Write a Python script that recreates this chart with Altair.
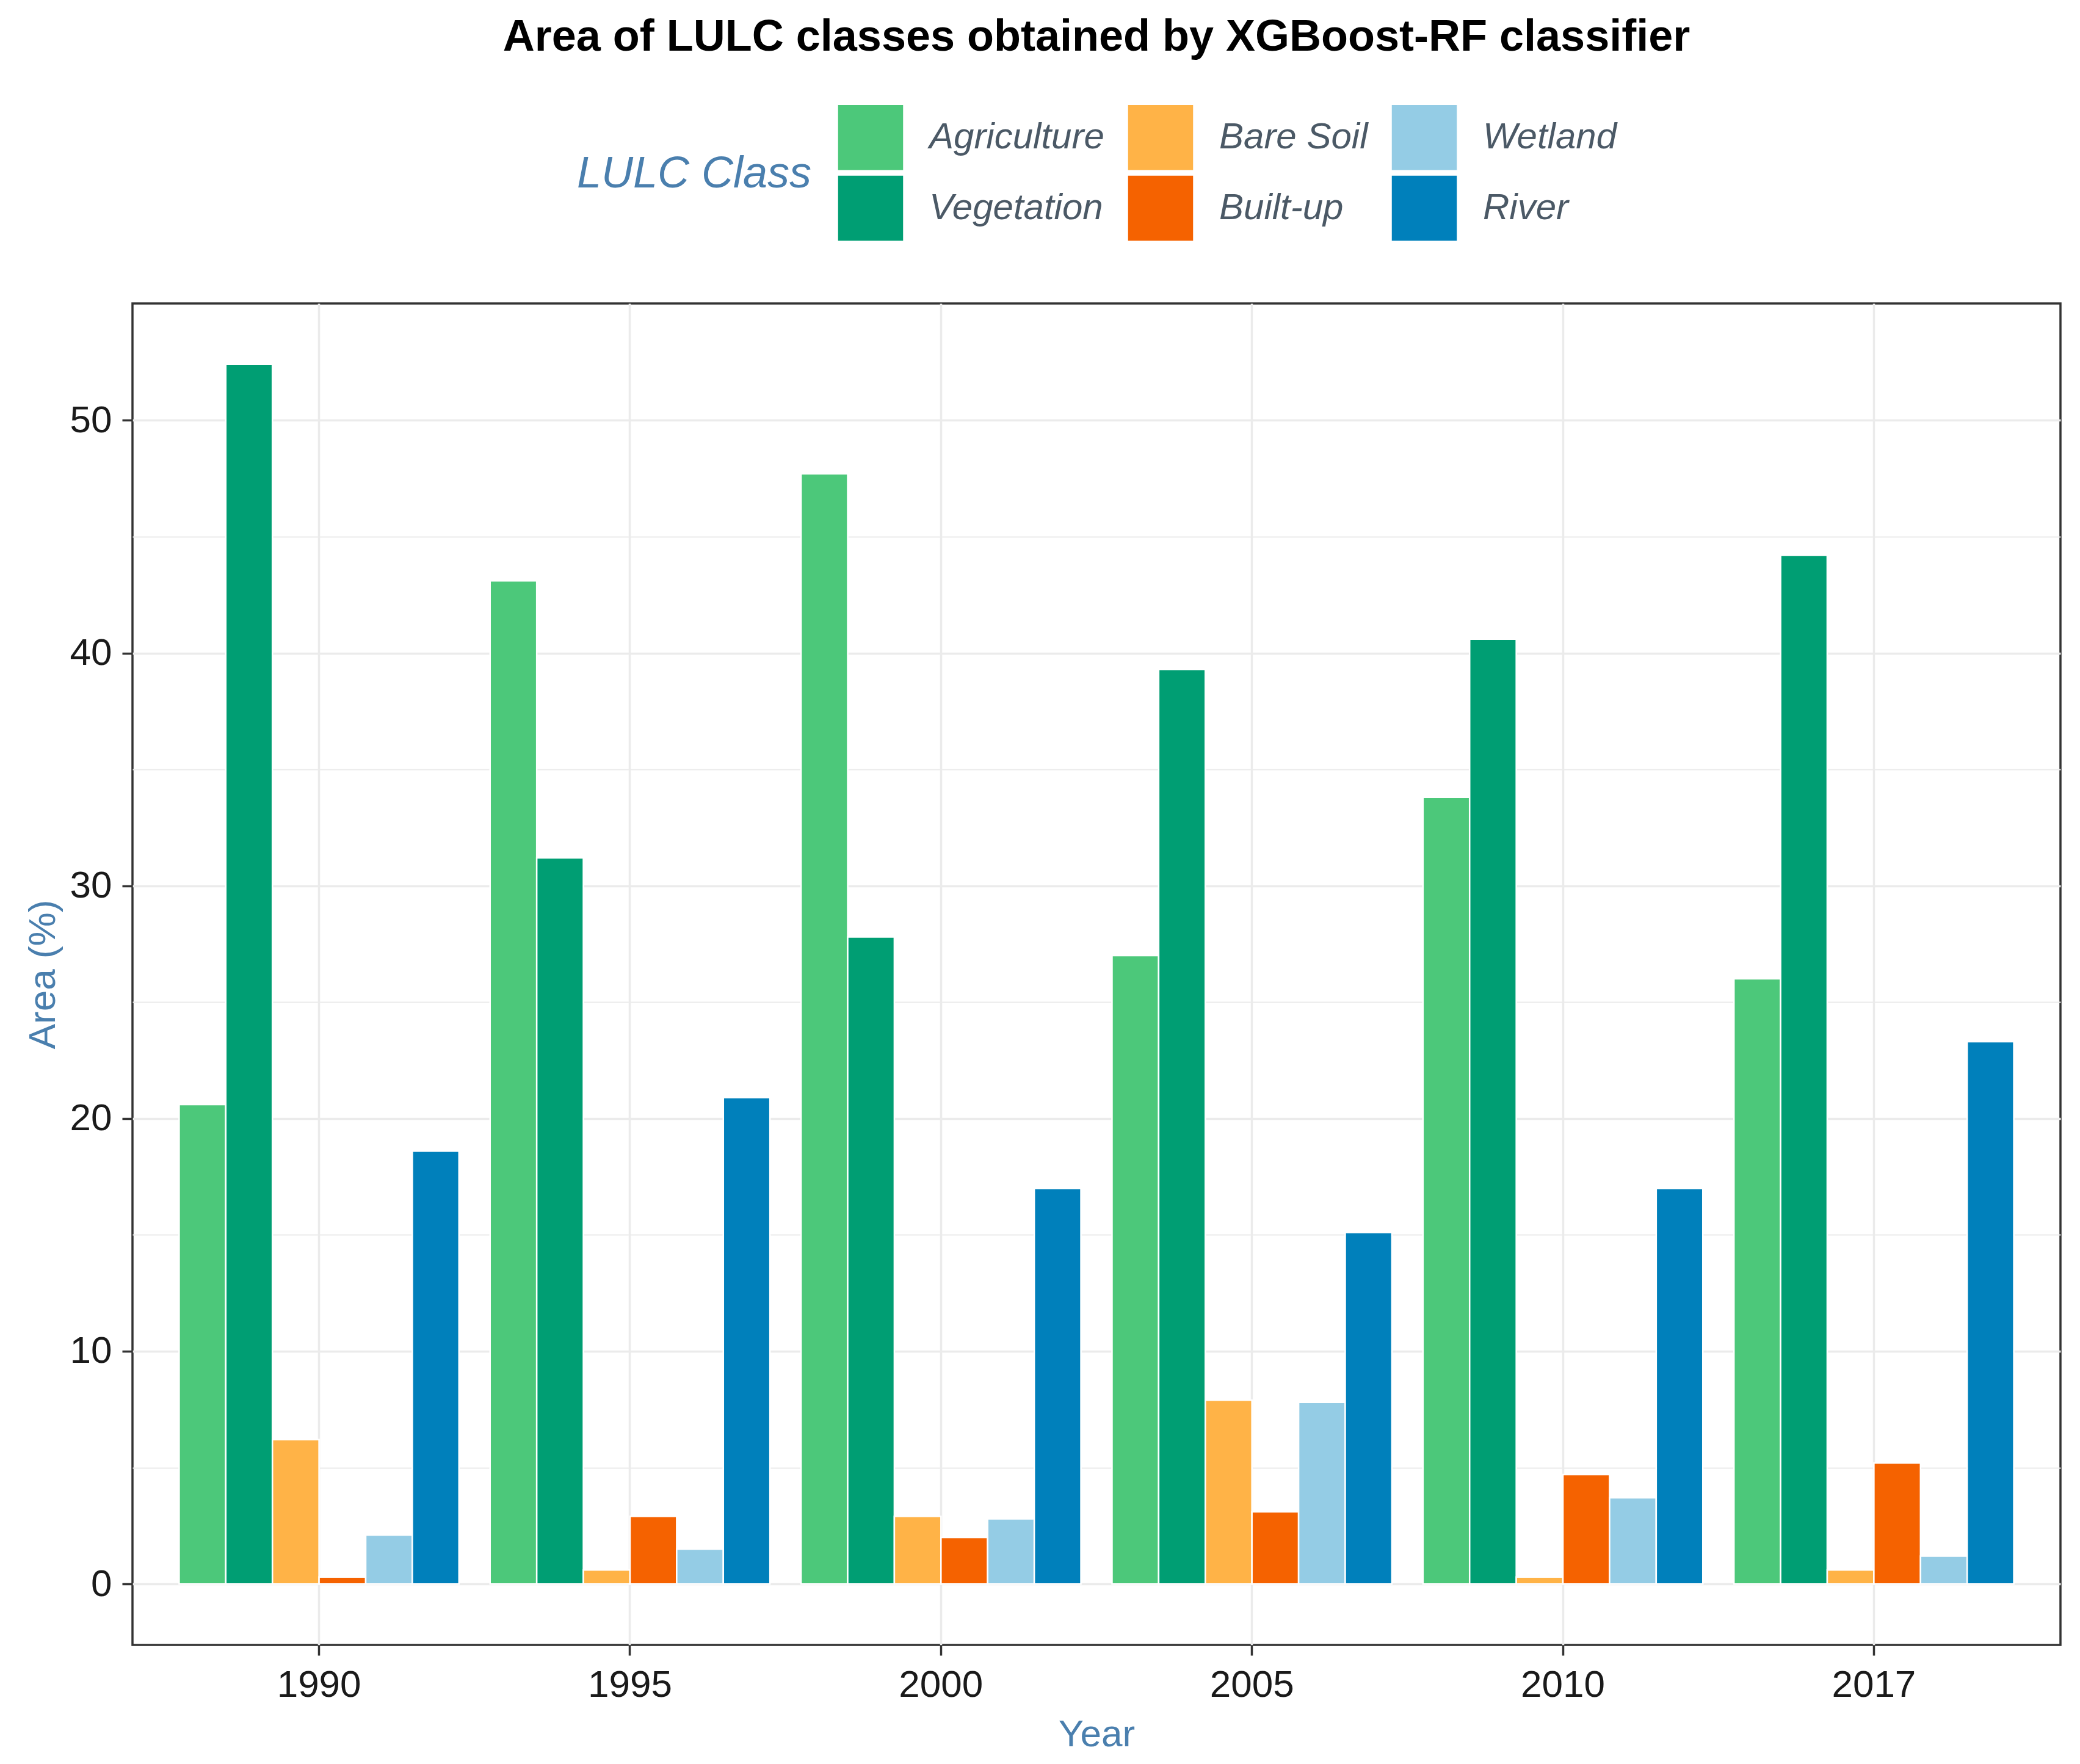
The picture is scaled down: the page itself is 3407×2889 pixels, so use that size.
import altair as alt
import pandas as pd

years = ["1990", "1995", "2000", "2005", "2010", "2017"]
classes = ["Agriculture", "Vegetation", "Bare Soil", "Built-up", "Wetland", "River"]

agriculture = [20.6, 43.1, 47.7, 27.0, 33.8, 26.0]
vegetation = [52.4, 31.2, 27.8, 39.3, 40.6, 44.2]
bare_soil = [6.2, 0.6, 2.9, 7.9, 0.3, 0.6]
built_up = [0.3, 2.9, 2.0, 3.1, 4.7, 5.2]
wetland = [2.1, 1.5, 2.8, 7.8, 3.7, 1.2]
river = [18.6, 20.9, 17.0, 15.1, 17.0, 23.3]

class_colors = {
    "Agriculture": "#4CC87A",
    "Vegetation": "#009E73",
    "Bare Soil": "#FFB347",
    "Built-up": "#F56200",
    "Wetland": "#94CCE5",
    "River": "#0080BB",
}
legend_order = ["Agriculture", "Bare Soil", "Wetland", "Vegetation", "Built-up", "River"]

series = {
    "Agriculture": agriculture,
    "Vegetation": vegetation,
    "Bare Soil": bare_soil,
    "Built-up": built_up,
    "Wetland": wetland,
    "River": river,
}
rows = []
for c in classes:
    for y, v in zip(years, series[c]):
        rows.append({"Year": y, "Class": c, "Area": v})
df = pd.DataFrame(rows)

ymax = max(max(s) for s in series.values())
ydom = [-0.05 * ymax, 1.05 * ymax]

FONT = "Liberation Sans"
TITLE_BLUE = "#4A7FAE"

chart = alt.Chart(df).mark_bar(stroke="white", strokeWidth=2.5).encode(
    x=alt.X(
        "Year:N",
        sort=years,
        scale=alt.Scale(paddingInner=0.1, paddingOuter=0.15),
        axis=alt.Axis(
            title="Year",
            labelAngle=0,
            domain=False,
            grid=True,
            bandPosition=0.5,
            gridColor="#EBEBEB",
            gridWidth=3.5,
            ticks=True,
            tickColor="#333333",
            tickWidth=3.5,
            tickSize=17,
            labelFont=FONT,
            labelFontSize=62,
            labelColor="#1A1A1A",
            labelPadding=18,
            titleFont=FONT,
            titleFontSize=62,
            titleFontWeight="normal",
            titleColor=TITLE_BLUE,
            titlePadding=20,
        ),
    ),
    xOffset=alt.XOffset("Class:N", sort=classes, scale=alt.Scale(paddingInner=0, paddingOuter=0)),
    y=alt.Y(
        "Area:Q",
        scale=alt.Scale(domain=ydom, nice=False, zero=False),
        axis=alt.Axis(
            title="Area (%)",
            values=[0, 5, 10, 15, 20, 25, 30, 35, 40, 45, 50],
            labelExpr="datum.value % 10 == 0 ? datum.label : ''",
            domain=False,
            grid=True,
            gridColor="#EBEBEB",
            gridWidth={"condition": {"test": "datum.value % 10 == 0", "value": 3.5}, "value": 2},
            ticks=True,
            tickColor="#333333",
            tickWidth=3.5,
            tickSize=17,
            tickOpacity={"condition": {"test": "datum.value % 10 == 0", "value": 1}, "value": 0},
            labelFont=FONT,
            labelFontSize=62,
            labelColor="#1A1A1A",
            labelPadding=17,
            titleFont=FONT,
            titleFontSize=62,
            titleFontWeight="normal",
            titleColor=TITLE_BLUE,
            titlePadding=12,
        ),
    ),
    color=alt.Color(
        "Class:N",
        scale=alt.Scale(domain=legend_order, range=[class_colors[c] for c in legend_order]),
        legend=alt.Legend(
            title="LULC Class",
            orient="none",
            legendX=728,
            legendY=-328,
            columns=3,
            direction="horizontal",
            titleOrient="left",
            titleAnchor="middle",
            titleBaseline="middle",
            titleFont=FONT,
            titleFontSize=72,
            titleFontStyle="italic",
            titleFontWeight="normal",
            titleColor=TITLE_BLUE,
            titlePadding=40,
            titleLimit=2000,
            labelFont=FONT,
            labelFontSize=60,
            labelFontStyle="italic",
            labelColor="#4B5966",
            labelOffset=40,
            labelLimit=2000,
            symbolType="square",
            symbolSize=11881,
            symbolStrokeColor="white",
            symbolStrokeWidth=2.5,
            symbolOpacity=1,
            rowPadding=-15,
            columnPadding=32,
        ),
    ),
).properties(
    width=3158,
    height=2197,
    autosize=alt.AutoSizeParams(type="none"),
    padding={"left": 209, "top": 489, "right": 16, "bottom": 186},
    title=alt.Title(
        "Area of LULC classes obtained by XGBoost-RF classifier",
        font=FONT,
        fontSize=72,
        fontWeight="bold",
        color="black",
        anchor="middle",
        offset=71,
    ),
).configure(
    background="white"
).configure_view(
    stroke="#333333",
    strokeWidth=3.5,
)

chart.save("out.html", embed_options={"renderer": "svg", "actions": False})
